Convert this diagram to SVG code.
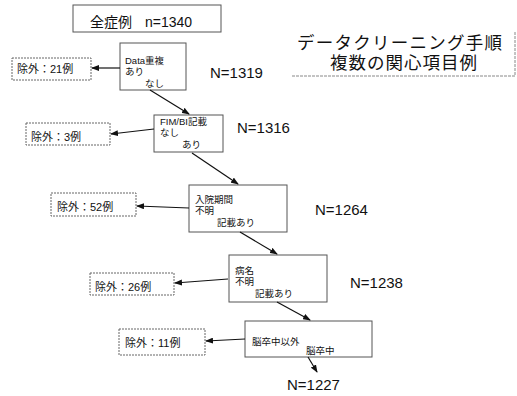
<svg xmlns="http://www.w3.org/2000/svg" width="517" height="396" viewBox="0 0 517 396">
<defs>
<marker id="ah" markerWidth="8" markerHeight="6" refX="7" refY="3" orient="auto" markerUnits="userSpaceOnUse">
<path d="M0,0 L8,3 L0,6 Z" fill="#111"/>
</marker>
<style>
.box{fill:#fff;stroke:#555;stroke-width:1}
.ex{fill:#fff;stroke:#666;stroke-width:1;stroke-dasharray:2 1}
.t{font-family:"Liberation Sans","Noto Sans CJK JP",sans-serif;font-size:9.5px;fill:#111}
.e{font-family:"Liberation Sans","Noto Sans CJK JP",sans-serif;font-size:11px;fill:#111}
.n{font-family:"Liberation Sans","Noto Sans CJK JP",sans-serif;font-size:15px;fill:#111}
.title{font-family:"Liberation Sans","Noto Sans CJK JP",sans-serif;font-size:17.5px;fill:#111}
.c{stroke:#111;stroke-width:1.2;fill:none;marker-end:url(#ah)}
</style>
</defs>
<rect width="517" height="396" fill="#fff"/>

<g id="title">
<text class="title" x="297" y="49" textLength="205">データクリーニング手順</text>
<text class="title" x="330" y="69" textLength="147">複数の関心項目例</text>
<path d="M292,76 H515 V32" fill="none" stroke="#888" stroke-width="1" stroke-dasharray="3 1"/>
</g>

<g id="all">
<rect class="box" x="73" y="5" width="148" height="27"/>
<text class="n" x="90" y="27" style="font-size:14px"><tspan>全症例</tspan><tspan x="145">n=1340</tspan></text>
</g>

<g id="data">
<rect class="box" x="120" y="43" width="66" height="47"/>
<text class="t" x="125" y="64">Data重複</text>
<text class="t" x="125" y="75">あり</text>
<text class="t" x="145" y="87">なし</text>
</g>
<g id="ex21">
<rect class="ex" x="12" y="58" width="79" height="22"/>
<text class="e" x="17" y="73">除外：21例</text>
</g>
<text class="n" x="210" y="78">N=1319</text>

<g id="fim">
<rect class="box" x="154" y="115" width="69" height="37"/>
<text class="t" x="160" y="125">FIM/BI記載</text>
<text class="t" x="160" y="136">なし</text>
<text class="t" x="182" y="148">あり</text>
</g>
<g id="ex3">
<rect class="ex" x="26" y="123" width="84" height="22"/>
<text class="e" x="31" y="141">除外：3例</text>
</g>
<text class="n" x="237" y="133">N=1316</text>

<g id="nyuin">
<rect class="box" x="189" y="185" width="98" height="47"/>
<text class="t" x="195" y="203">入院期間</text>
<text class="t" x="195" y="214">不明</text>
<text class="t" x="217" y="226">記載あり</text>
</g>
<g id="ex52">
<rect class="ex" x="51" y="193" width="85" height="23"/>
<text class="e" x="57" y="211">除外：52例</text>
</g>
<text class="n" x="315" y="215">N=1264</text>

<g id="byomei">
<rect class="box" x="229" y="255" width="98" height="47"/>
<text class="t" x="235" y="274">病名</text>
<text class="t" x="235" y="285">不明</text>
<text class="t" x="255" y="297">記載あり</text>
</g>
<g id="ex26">
<rect class="ex" x="90" y="273" width="84" height="22"/>
<text class="e" x="95" y="291">除外：26例</text>
</g>
<text class="n" x="350" y="288">N=1238</text>

<g id="stroke">
<rect class="box" x="245" y="321" width="127" height="36"/>
<text class="t" x="252" y="345">脳卒中以外</text>
<text class="t" x="306" y="354">脳卒中</text>
</g>
<g id="ex11">
<rect class="ex" x="119" y="329" width="86" height="26"/>
<text class="e" x="125" y="347">除外：11例</text>
</g>
<text class="n" x="287" y="390">N=1227</text>

<g id="connectors">
<line class="c" x1="120" y1="68" x2="92" y2="68"/>
<line class="c" x1="150" y1="90" x2="189" y2="114"/>
<line class="c" x1="154" y1="129" x2="111" y2="134"/>
<line class="c" x1="192" y1="153" x2="238" y2="184"/>
<line class="c" x1="189" y1="208" x2="137" y2="206"/>
<line class="c" x1="240" y1="232" x2="277" y2="254"/>
<line class="c" x1="228" y1="279" x2="175" y2="283"/>
<line class="c" x1="277" y1="302" x2="310" y2="320"/>
<line class="c" x1="245" y1="339" x2="206" y2="341"/>
<line class="c" x1="308" y1="357" x2="317" y2="372"/>
</g>
</svg>
